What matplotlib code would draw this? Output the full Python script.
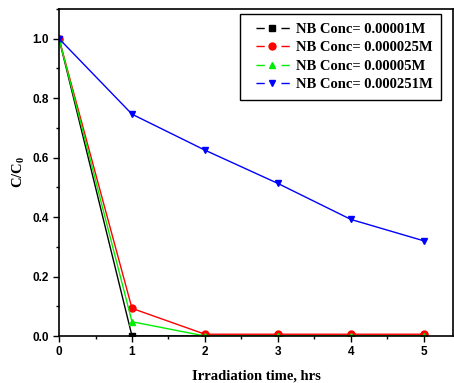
import numpy as np
from matplotlib import pyplot as plt
from matplotlib.ticker import MultipleLocator
from matplotlib.lines import Line2D

plt.rcParams['mathtext.fontset'] = 'custom'
plt.rcParams['mathtext.rm'] = 'Liberation Serif:bold'

time_hrs = [0, 1, 2, 3, 4, 5]
conc_labels = ['NB Conc= 0.00001M', 'NB Conc= 0.000025M',
               'NB Conc= 0.00005M', 'NB Conc= 0.000251M']
c_00001 = [1.0, 0.0, 0.0, 0.0, 0.0, 0.0]
c_000025 = [1.0, 0.093, 0.006, 0.006, 0.006, 0.006]
c_00005 = [1.0, 0.048, 0.0, 0.0, 0.0, 0.0]
c_000251 = [1.0, 0.746, 0.625, 0.513, 0.392, 0.320]

series = [c_00001, c_000025, c_00005, c_000251]
colors = ['black', 'red', '#00ee00', 'blue']
markers = ['s', 'o', '^', 'v']

fig = plt.figure(figsize=(4.54, 3.83), dpi=100)
ax = fig.add_axes([0.130, 0.1227, 0.868, 0.854])

handles = []
for y, c, m in zip(series, colors, markers):
    ax.plot(time_hrs, y, color=c, marker=m, markersize=5, linewidth=1)
    # legend key: short line - marker - short line, with gaps
    seg = Line2D([], [], color=c, linewidth=1, dashes=[0, 5, 6, 12, 6, 5],
                 dash_capstyle='butt')
    mk = Line2D([], [], color=c, marker=m, markersize=5, linestyle='none')
    handles.append((seg, mk))

ax.set_xlim(0, 5.4)
ax.set_ylim(0, 1.1)
ax.xaxis.set_major_locator(MultipleLocator(1))
ax.xaxis.set_minor_locator(MultipleLocator(0.5))
ax.yaxis.set_major_locator(MultipleLocator(0.2))
ax.yaxis.set_minor_locator(MultipleLocator(0.1))
ax.tick_params(which='major', direction='out', length=4, width=1)
ax.tick_params(which='minor', direction='out', length=2.5, width=1)
for lbl in ax.get_xticklabels() + ax.get_yticklabels():
    lbl.set_family('Liberation Sans')
    lbl.set_fontweight('bold')
    lbl.set_fontsize(8.5)
for s in ax.spines.values():
    s.set_linewidth(1.2)

ax.set_xlabel('Irradiation time, hrs', family='Liberation Serif', fontweight='bold',
              fontsize=10.5, labelpad=8)
ax.set_ylabel('C/C$_\\mathrm{0}$', family='Liberation Serif', fontweight='bold', fontsize=10.5)

leg = ax.legend(handles, conc_labels, loc='upper right', bbox_to_anchor=(0.970, 0.985),
                borderaxespad=0, fancybox=False, edgecolor='black', framealpha=1,
                handlelength=34 / 10.5, handletextpad=0.0,
                prop={'family': 'Liberation Serif', 'weight': 'bold', 'size': 10.5},
                labelspacing=0.36, borderpad=0.6)
leg.get_frame().set_linewidth(1)

plt.savefig('out.png')
